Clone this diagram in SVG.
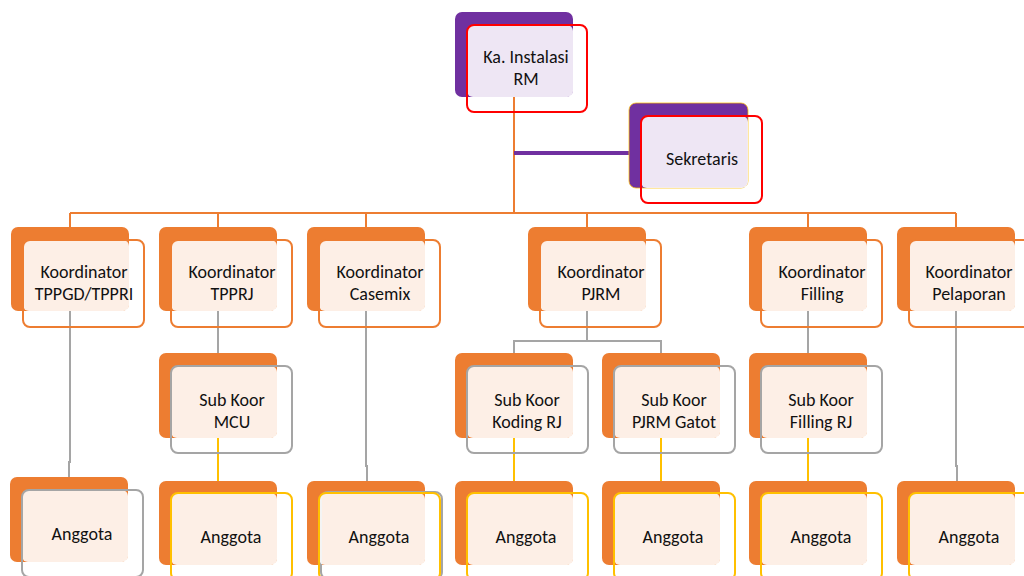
<svg xmlns="http://www.w3.org/2000/svg" width="1024" height="576" viewBox="0 0 1024 576">
<style>
  .bo { fill: #ED7D31; }
  .bp { fill: #7030A0; }
  .lt { fill: #FFFFFF; fill-opacity: 0.88; }
  .fr { fill: none; stroke-width: 2; }
  .so { stroke: #ED7D31; }
  .sg { stroke: #A5A5A5; }
  .sy { stroke: #FFC000; }
  .sr { stroke: #FF0000; }
  .c { fill: none; stroke-width: 2; }
  text { font-family: Carlito, Lato, "Liberation Sans", sans-serif; font-size: 18px; fill: #111111; text-anchor: middle; }
</style>
<rect width="1024" height="576" fill="#FFFFFF"/>
<g id="connectors">
  <path class="c so" d="M514 97 V213 M70 213 H956 M70 213 V227 M218 213 V227 M366 213 V227 M587 213 V227 M808 213 V227 M956 213 V227"/>
  <path d="M514 153 H630" fill="none" stroke="#7030A0" stroke-width="4"/>
  <path class="c sg" d="M70 311 V462 H69 V477 M218 311 V353 M366 311 V466 H367 V481 M587 311 V341 M514 341 H661 M514 340 V353 M661 340 V353 M808 311 V353 M956 311 V466 H957 V481"/>
  <path class="c sy" d="M218 438 V481 M514 438 V481 M661 438 V481 M808 438 V481"/>
</g>
<g id="ka-instalasi">
  <rect class="bp" x="455" y="12" width="118" height="85" rx="7"/>
  <rect class="lt" x="467" y="25" width="106" height="72" rx="6"/>
  <rect class="fr sr" x="467" y="25" width="120" height="87" rx="7"/>
  <text x="526" y="63">Ka. Instalasi</text>
  <text x="526" y="85">RM</text>
</g>
<g id="sekretaris">
  <rect class="bp" x="629" y="103" width="119" height="85" rx="7" stroke="#FFC000" stroke-width="0.75"/>
  <rect class="lt" x="641" y="116" width="107" height="72" rx="6"/>
  <rect class="fr sr" x="641" y="116" width="121" height="87" rx="7"/>
  <text x="702" y="165">Sekretaris</text>
</g>
<g id="koord-tppgd">
  <rect class="bo" x="11" y="227" width="118" height="84" rx="7"/>
  <rect class="lt" x="23" y="240" width="106" height="71" rx="6"/>
  <rect class="fr so" x="23" y="240" width="121" height="87" rx="7"/>
  <text x="84" y="278">Koordinator</text>
  <text x="84" y="300">TPPGD/TPPRI</text>
</g>
<g id="koord-tpprj">
  <rect class="bo" x="159" y="227" width="118" height="84" rx="7"/>
  <rect class="lt" x="171" y="240" width="106" height="71" rx="6"/>
  <rect class="fr so" x="171" y="240" width="121" height="87" rx="7"/>
  <text x="232" y="278">Koordinator</text>
  <text x="232" y="300">TPPRJ</text>
</g>
<g id="koord-casemix">
  <rect class="bo" x="307" y="227" width="118" height="84" rx="7"/>
  <rect class="lt" x="319" y="240" width="106" height="71" rx="6"/>
  <rect class="fr so" x="319" y="240" width="121" height="87" rx="7"/>
  <text x="380" y="278">Koordinator</text>
  <text x="380" y="300">Casemix</text>
</g>
<g id="koord-pjrm">
  <rect class="bo" x="528" y="227" width="118" height="84" rx="7"/>
  <rect class="lt" x="540" y="240" width="106" height="71" rx="6"/>
  <rect class="fr so" x="540" y="240" width="121" height="87" rx="7"/>
  <text x="601" y="278">Koordinator</text>
  <text x="601" y="300">PJRM</text>
</g>
<g id="koord-filling">
  <rect class="bo" x="749" y="227" width="118" height="84" rx="7"/>
  <rect class="lt" x="761" y="240" width="106" height="71" rx="6"/>
  <rect class="fr so" x="761" y="240" width="121" height="87" rx="7"/>
  <text x="822" y="278">Koordinator</text>
  <text x="822" y="300">Filling</text>
</g>
<g id="koord-pelaporan">
  <rect class="bo" x="897" y="227" width="118" height="84" rx="7"/>
  <rect class="lt" x="909" y="240" width="106" height="71" rx="6"/>
  <rect class="fr so" x="909" y="240" width="121" height="87" rx="7"/>
  <text x="969" y="278">Koordinator</text>
  <text x="969" y="300">Pelaporan</text>
</g>
<g id="sub-mcu">
  <rect class="bo" x="159" y="353" width="118" height="85" rx="7"/>
  <rect class="lt" x="171" y="366" width="106" height="72" rx="6"/>
  <rect class="fr sg" x="171" y="366" width="121" height="87" rx="7"/>
  <text x="232" y="406">Sub Koor</text>
  <text x="232" y="428">MCU</text>
</g>
<g id="sub-koding">
  <rect class="bo" x="455" y="353" width="118" height="85" rx="7"/>
  <rect class="lt" x="467" y="366" width="106" height="72" rx="6"/>
  <rect class="fr sg" x="467" y="366" width="121" height="87" rx="7"/>
  <text x="527" y="406">Sub Koor</text>
  <text x="527" y="428">Koding RJ</text>
</g>
<g id="sub-gatot">
  <rect class="bo" x="602" y="353" width="118" height="85" rx="7"/>
  <rect class="lt" x="614" y="366" width="106" height="72" rx="6"/>
  <rect class="fr sg" x="614" y="366" width="121" height="87" rx="7"/>
  <text x="674" y="406">Sub Koor</text>
  <text x="674" y="428">PJRM Gatot</text>
</g>
<g id="sub-filling">
  <rect class="bo" x="749" y="353" width="118" height="85" rx="7"/>
  <rect class="lt" x="761" y="366" width="106" height="72" rx="6"/>
  <rect class="fr sg" x="761" y="366" width="121" height="87" rx="7"/>
  <text x="821" y="406">Sub Koor</text>
  <text x="821" y="428">Filling RJ</text>
</g>
<g id="anggota-1">
  <rect class="bo" x="10" y="477" width="118" height="85" rx="7"/>
  <rect class="lt" x="22" y="490" width="106" height="72" rx="6"/>
  <rect class="fr sg" x="22" y="490" width="121" height="87" rx="7"/>
  <text x="82" y="540">Anggota</text>
</g>
<g id="anggota-2">
  <rect class="bo" x="159" y="481" width="118" height="84" rx="7"/>
  <rect class="lt" x="171" y="493" width="106" height="72" rx="6"/>
  <rect class="fr sy" x="171" y="493" width="121" height="87" rx="7"/>
  <text x="231" y="543">Anggota</text>
</g>
<g id="anggota-3">
  <rect class="bo" x="307" y="481" width="118" height="84" rx="7"/>
  <rect class="fr sg" x="321" y="492" width="121" height="87" rx="7"/>
  <rect class="lt" x="319" y="493" width="106" height="72" rx="6"/>
  <rect class="fr sy" x="319" y="493" width="121" height="87" rx="7"/>
  <text x="379" y="543">Anggota</text>
</g>
<g id="anggota-4">
  <rect class="bo" x="455" y="481" width="118" height="84" rx="7"/>
  <rect class="lt" x="467" y="493" width="106" height="72" rx="6"/>
  <rect class="fr sy" x="467" y="493" width="121" height="87" rx="7"/>
  <text x="526" y="543">Anggota</text>
</g>
<g id="anggota-5">
  <rect class="bo" x="602" y="481" width="118" height="84" rx="7"/>
  <rect class="lt" x="614" y="493" width="106" height="72" rx="6"/>
  <rect class="fr sy" x="614" y="493" width="121" height="87" rx="7"/>
  <text x="673" y="543">Anggota</text>
</g>
<g id="anggota-6">
  <rect class="bo" x="749" y="481" width="118" height="84" rx="7"/>
  <rect class="lt" x="761" y="493" width="106" height="72" rx="6"/>
  <rect class="fr sy" x="761" y="493" width="121" height="87" rx="7"/>
  <text x="821" y="543">Anggota</text>
</g>
<g id="anggota-7">
  <rect class="bo" x="897" y="481" width="118" height="84" rx="7"/>
  <rect class="lt" x="909" y="493" width="106" height="72" rx="6"/>
  <rect class="fr sy" x="909" y="493" width="121" height="87" rx="7"/>
  <text x="969" y="543">Anggota</text>
</g>
</svg>
